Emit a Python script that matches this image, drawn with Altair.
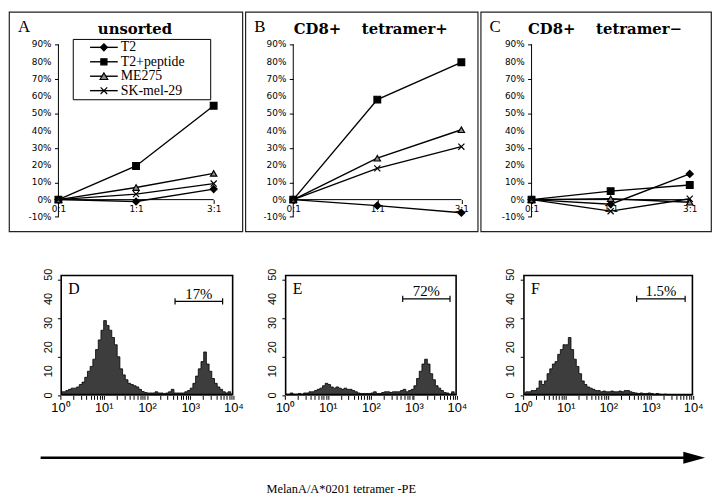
import altair as alt
import pandas as pd

# ---------------- data: top row (percent lysis vs E:T ratio) ----------------
ratios = ["0:1", "1:1", "3:1"]
series = ["T2", "T2+peptide", "ME275", "SK-mel-29"]

a_t2 = [0.0, -1.1, 6.1]
a_t2pep = [0.0, 19.5, 54.4]
a_me275 = [0.0, 7.0, 15.2]
a_sk = [0.0, 3.2, 9.3]

b_t2 = [0.0, -3.5, -7.6]
b_t2pep = [0.0, 58.0, 79.6]
b_me275 = [0.0, 24.0, 40.5]
b_sk = [0.0, 18.1, 30.7]

c_t2 = [0.0, -2.7, 14.9]
c_t2pep = [0.0, 4.9, 8.5]
c_me275 = [0.0, 0.5, -1.5]
c_sk = [0.0, -6.7, 0.5]

y_ticks = [-10, 0, 10, 20, 30, 40, 50, 60, 70, 80, 90]
top_letters = ["A", "B", "C"]
top_titles = ["unsorted", "CD8+\u00a0\u00a0\u00a0\u00a0tetramer+", "CD8+\u00a0\u00a0\u00a0\u00a0tetramer\u2212"]

# ---------------- data: bottom row (histograms, 16 bins per decade) ----------------
hist_d = [1.5, 1.5, 2, 2.5, 3, 3, 3.5, 4.5, 5.5, 7.5, 10, 12, 15, 19, 23, 27,
          31, 29, 27, 24, 21, 16, 11, 8.5, 6.5, 5, 4.5, 4, 3.5, 2.5, 1.6, 1.2,
          1, 1, 1, 1.5, 1, 1, 0.8, 1, 1.5, 2.5, 1, 1, 1, 1, 1.5, 2,
          3, 5, 8, 11, 14, 18, 13, 10, 7, 5, 3.5, 2.5, 1.5, 1, 1.5, 0.5]
hist_e = [0.5, 0.5, 1, 0.5, 0.5, 0.8, 0.5, 1, 1, 1.5, 1.5, 2, 2.5, 3, 4, 5,
          4.5, 3.5, 3, 3.5, 3, 2.5, 3, 2.5, 2.5, 2, 1.5, 1, 0.8, 0.8, 0.8, 0.8,
          1, 1.5, 0.8, 0.8, 1.2, 1.5, 1.5, 1.2, 1.5, 1.5, 1.5, 2, 2.5, 1.5, 2, 2.5,
          4, 7, 10, 13, 15, 13, 9, 6.5, 4, 3, 2, 1.2, 1, 0.5, 1.5, 0.5]
hist_f = [1, 1.5, 1.5, 2, 2, 3, 6, 4.5, 6, 9, 11, 13, 14, 17, 19, 21,
          21, 24, 19, 15, 12, 9, 6, 4.5, 3.5, 3, 2.5, 2, 2, 1.5, 1.8, 1.5,
          1.5, 1.8, 1.5, 1.5, 1.8, 1.5, 2, 2, 1.5, 1.2, 1, 0.8, 1, 0.8, 0.8, 1,
          0.8, 0.5, 0.8, 0.5, 0.4, 0.5, 0.3, 0.3, 0.2, 0.2, 0.1, 0.1, 0.1, 0.1, 0.1, 0.1]
count_ticks = [0, 10, 20, 30, 40, 50]
bottom_letters = ["D", "E", "F"]
gate_labels = ["17%", "72%", "1.5%"]
gate_lo = [2.65, 2.74, 2.67]   # log10 of fluorescence
gate_hi = [3.75, 3.84, 3.81]
gate_y = [39, 40, 40]
x_title = "MelanA/A*0201 tetramer -PE"

# ---------------- styles ----------------
marker_shapes = ["diamond", "square", "triangle-up", "M-1,-1L1,1M-1,1L1,-1"]
marker_fill = ["black", "black", "#8c8c8c", "black"]
marker_size = [50, 38, 60, 45]
one = pd.DataFrame({"d": [0]})


def top_panel(vals, W, p0, u, letter, title, with_legend):
    H, pz, uy = 222, 190, 157 / 90
    xs = alt.Scale(domain=[-p0 / u, (W - p0) / u], nice=False, zero=False)
    ys = alt.Scale(domain=[(pz - H) / uy, pz / uy], nice=False, zero=False)
    rows = []
    for s, v in zip(series, vals):
        for i, y in enumerate(v):
            rows.append({"series": s, "pos": i, "ratio": ratios[i], "value": y})
    df = pd.DataFrame(rows)
    xlab = "[" + ",".join("'" + r + "'" for r in ratios) + "][datum.value]"
    xaxis = alt.Axis(values=[0, 1, 2], labelExpr=xlab, offset=-(H - pz), domain=False,
                     tickSize=4, tickColor="black", labelFont="DejaVu Sans", labelFontSize=9,
                     labelColor="black", labelPadding=1, grid=False, title=None,
                     labelFlush=False, labelOverlap=False)
    yaxis = alt.Axis(values=y_ticks, labels=False, offset=-p0, domain=False,
                     tickSize=4, tickColor="black", grid=False, title=None)
    X = alt.X("pos:Q", scale=xs, axis=xaxis)
    Y = alt.Y("value:Q", scale=ys, axis=yaxis)
    ylab_df = pd.DataFrame({"v": y_ticks, "lab": [str(v) + "%" for v in y_ticks]})
    ylabels = alt.Chart(ylab_df).mark_text(align="right", baseline="middle", dx=-7,
                                           font="DejaVu Sans", fontSize=9, color="black").encode(
        x=alt.datum(0), y=alt.Y("v:Q"), text="lab:N")
    yline = alt.Chart(one).mark_rule(color="black", strokeWidth=1).encode(
        x=alt.datum(0), y=alt.datum(-10), y2=alt.datum(90))
    xline = alt.Chart(one).mark_rule(color="black", strokeWidth=1).encode(
        x=alt.datum(0), x2=alt.datum(2), y=alt.datum(0))
    lines = alt.Chart(df).mark_line(color="black", strokeWidth=1.4).encode(
        x=X, y=Y, detail="series:N", order="pos:Q")
    points = alt.Chart(df).mark_point(filled=True, stroke="black", strokeWidth=1.2, opacity=1).encode(
        x=X, y=Y,
        shape=alt.Shape("series:N", scale=alt.Scale(domain=series, range=marker_shapes), legend=None),
        fill=alt.Fill("series:N", scale=alt.Scale(domain=series, range=marker_fill), legend=None),
        size=alt.Size("series:N", scale=alt.Scale(domain=series, range=marker_size), legend=None),
    )
    let = alt.Chart(one).mark_text(font="Liberation Serif", fontSize=17, align="left",
                                   baseline="middle", color="black").encode(
        x=alt.value(9), y=alt.value(15), text=alt.value(letter))
    ttl = alt.Chart(one).mark_text(font="DejaVu Serif", fontWeight="bold", fontSize=15,
                                   align="center", baseline="middle", color="black").encode(
        x=alt.value(W * 0.54), y=alt.value(18), text=alt.value(title))
    layers = [lines, yline, xline, ylabels, points, let, ttl]
    if with_legend:
        layers.append(alt.Chart(one).mark_rect(fill="white", stroke="black", strokeWidth=1).encode(
            x=alt.value(65), x2=alt.value(204), y=alt.value(28), y2=alt.value(89)))
        for i, s in enumerate(series):
            yy = 36 + 14.6 * i
            layers.append(alt.Chart(one).mark_rule(color="black", strokeWidth=1.4).encode(
                x=alt.value(82), x2=alt.value(110), y=alt.value(yy)))
            layers.append(alt.Chart(one).mark_point(
                shape=marker_shapes[i], size=marker_size[i], fill=marker_fill[i], filled=True,
                stroke="black", strokeWidth=1.2, opacity=1).encode(x=alt.value(96), y=alt.value(yy)))
            layers.append(alt.Chart(one).mark_text(font="Liberation Serif", fontSize=14, align="left",
                                                   baseline="middle", color="black").encode(
                x=alt.value(113), y=alt.value(yy), text=alt.value(s)))
    return alt.layer(*layers).properties(
        width=W, height=H, view=alt.ViewBackground(stroke="#222", strokeWidth=1.2))


def hist_panel(counts, W, idx):
    H = 122
    df = pd.DataFrame({"x": [10 ** ((i + 0.5) / 16) for i in range(len(counts))], "count": counts})
    xs = alt.Scale(type="log", domain=[1, 10000], nice=False)
    ys = alt.Scale(domain=[0, 50], nice=False, zero=True)
    xvals = [m * 10 ** k for k in range(4) for m in range(1, 10)] + [10000]
    sup = {1: "10\u2070", 10: "10\u00b9", 100: "10\u00b2", 1000: "10\u00b3", 10000: "10\u2074"}
    xlab = "".join("datum.value == %d ? '%s' : " % (k, v) for k, v in sup.items()) + "''"
    xaxis = alt.Axis(values=xvals, labelExpr=xlab, tickSize=4, tickColor="black", domain=False,
                     labelFont="Liberation Sans", labelFontSize=13, labelColor="black", labelPadding=2,
                     grid=False, title=None, labelFlush=False, labelOverlap=False)
    yaxis = alt.Axis(values=list(range(0, 51, 2)), labels=False, tickSize=3, tickColor="black",
                     domain=False, grid=False, title=None)
    X = alt.X("x:Q", scale=xs, axis=xaxis)
    area = alt.Chart(df).mark_area(interpolate="step", fill="#3d3d3d", fillOpacity=1,
                                   line={"color": "black", "strokeWidth": 0.8}).encode(
        x=X, y=alt.Y("count:Q", scale=ys, axis=yaxis))
    ylab_df = pd.DataFrame({"c": count_ticks})
    ylabels = alt.Chart(ylab_df).mark_text(angle=270, align="center", baseline="bottom", dy=-7,
                                           font="Liberation Sans", fontSize=11, color="black").encode(
        x=alt.datum(1), y=alt.Y("c:Q"), text=alt.Text("c:Q"))
    frame = alt.Chart(one).mark_rect(fill=None, filled=False, stroke="black", strokeWidth=1.6,
                                     opacity=1).encode(
        x=alt.value(0.8), x2=alt.value(W - 0.8), y=alt.value(0.8), y2=alt.value(H - 0.8))
    lo, hi, gy = 10 ** gate_lo[idx], 10 ** gate_hi[idx], gate_y[idx]
    mid = 10 ** ((gate_lo[idx] + gate_hi[idx]) / 2)
    gate = alt.Chart(one).mark_rule(color="black", strokeWidth=1.2).encode(
        x=alt.datum(lo), x2=alt.datum(hi), y=alt.datum(gy))
    end1 = alt.Chart(one).mark_rule(color="black", strokeWidth=1.2).encode(
        x=alt.datum(lo), y=alt.datum(gy - 1.3), y2=alt.datum(gy + 1.3))
    end2 = alt.Chart(one).mark_rule(color="black", strokeWidth=1.2).encode(
        x=alt.datum(hi), y=alt.datum(gy - 1.3), y2=alt.datum(gy + 1.3))
    glab = alt.Chart(one).mark_text(font="Liberation Serif", fontSize=15, align="center",
                                    baseline="middle", color="black").encode(
        x=alt.datum(mid), y=alt.datum(gy + 3.2), text=alt.value(gate_labels[idx]))
    let = alt.Chart(one).mark_text(font="Liberation Serif", fontSize=16, align="left",
                                   baseline="middle", color="black").encode(
        x=alt.value(8), y=alt.value(14), text=alt.value(bottom_letters[idx]))
    return alt.layer(area, frame, ylabels, gate, end1, end2, glab, let).properties(
        width=W, height=H)


def spacer(w, h):
    return alt.Chart(one).mark_rect(opacity=0).encode(
        x=alt.value(0), x2=alt.value(w), y=alt.value(0), y2=alt.value(h)).properties(width=w, height=h)


pA = top_panel([a_t2, a_t2pep, a_me275, a_sk], 236, 50, 78.5, top_letters[0], top_titles[0], True)
pB = top_panel([b_t2, b_t2pep, b_me275, b_sk], 235, 48.5, 85, top_letters[1], top_titles[1], False)
pC = top_panel([c_t2, c_t2pep, c_me275, c_sk], 233, 51.5, 80, top_letters[2], top_titles[2], False)
top = alt.hconcat(pA, pB, pC, spacing=3, bounds="flush")

pD = hist_panel(hist_d, 175, 0)
pE = hist_panel(hist_e, 174, 1)
pF = hist_panel(hist_f, 172, 2)
bottom = alt.hconcat(spacer(52, 122), pD, spacer(52, 122), pE, spacer(67, 122), pF,
                     spacing=0, bounds="flush")

ab = alt.Chart(one)
arrow_box = ab.mark_rect(opacity=0).encode(
    x=alt.value(0), x2=alt.value(704), y=alt.value(0), y2=alt.value(44))
arrow_line = ab.mark_rule(color="black", strokeWidth=2.5).encode(
    x=alt.value(32), x2=alt.value(693), y=alt.value(8))
arrow_head = ab.mark_point(shape="M-1,-0.55L1,0L-1,0.55Z", size=484, filled=True,
                           color="black", opacity=1).encode(x=alt.value(693), y=alt.value(8))
arrow_lab = ab.mark_text(font="Liberation Serif", fontSize=12.5, align="center",
                         baseline="middle", color="black").encode(
    x=alt.value(336), y=alt.value(40), text=alt.value(x_title))
arrow_row = alt.layer(arrow_box, arrow_line, arrow_head, arrow_lab).properties(width=704, height=44)

chart = alt.vconcat(top, bottom, arrow_row, spacing=36).properties(
    padding=0, background="white").configure_view(stroke=None)

chart.save("out.html", embed_options={"renderer": "svg", "actions": False})
